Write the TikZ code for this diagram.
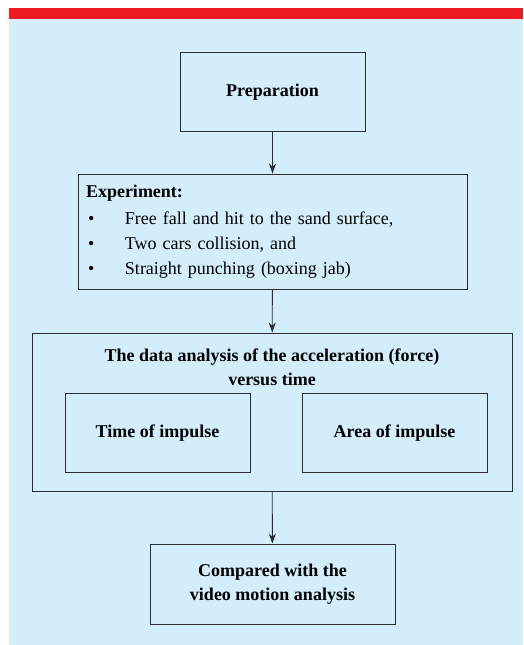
\documentclass[tikz,border=0pt]{standalone}
\usepackage{fontspec}
\setmainfont{Liberation Serif}
\usetikzlibrary{arrows.meta}
\definecolor{panelblue}{RGB}{212,237,250}
\definecolor{barred}{RGB}{237,28,36}
\definecolor{linegray}{RGB}{45,45,45}
\begin{document}
\begin{tikzpicture}[x=1pt, y=1pt,
  box/.style={rectangle, draw=linegray, line width=0.9pt, inner sep=0pt, align=center,
    font=\fontsize{18}{24}\selectfont\bfseries},
  flow/.style={-{Stealth[length=10pt, width=7pt]}, draw=linegray, line width=0.9pt}]
  \useasboundingbox (0, 0) rectangle (523, 645);
  \fill[panelblue] (9, 0) rectangle (523, 626);
  \fill[barred] (9, 626) rectangle (523, 637);

  \node (prep) [box, minimum width=185, minimum height=79] at (272.5, 553) {Preparation};
  \node (exp) [box, minimum width=389, minimum height=115, text width=373, align=left,
    font=\fontsize{18}{25}\selectfont] at (272.5, 413.5)
    {\textbf{Experiment:}\\[2pt]
     \makebox[39pt][l]{\hspace{2pt}\textbullet}Free fall and hit to the sand surface,\\
     \makebox[39pt][l]{\hspace{2pt}\textbullet}Two cars collision, and\\
     \makebox[39pt][l]{\hspace{2pt}\textbullet}Straight punching (boxing jab)};
  \node (analysis) [box, minimum width=480, minimum height=158] at (272, 233) {};
  \node (analysistitle) [font=\fontsize{18}{24}\selectfont\bfseries, align=center] at (272, 278)
    {The data analysis of the acceleration (force)\\versus time};
  \node (time) [box, minimum width=185, minimum height=79] at (157.5, 212) {Time of impulse};
  \node (area) [box, minimum width=185, minimum height=79] at (394.5, 212) {Area of impulse};
  \node (compared) [box, minimum width=245, minimum height=80] at (272.5, 61)
    {Compared with the\\video motion analysis};

  \draw[flow] (prep) to (exp);
  \draw[flow] (exp) to (analysis);
  \draw[flow] (analysis) to (compared);
\end{tikzpicture}
\end{document}
